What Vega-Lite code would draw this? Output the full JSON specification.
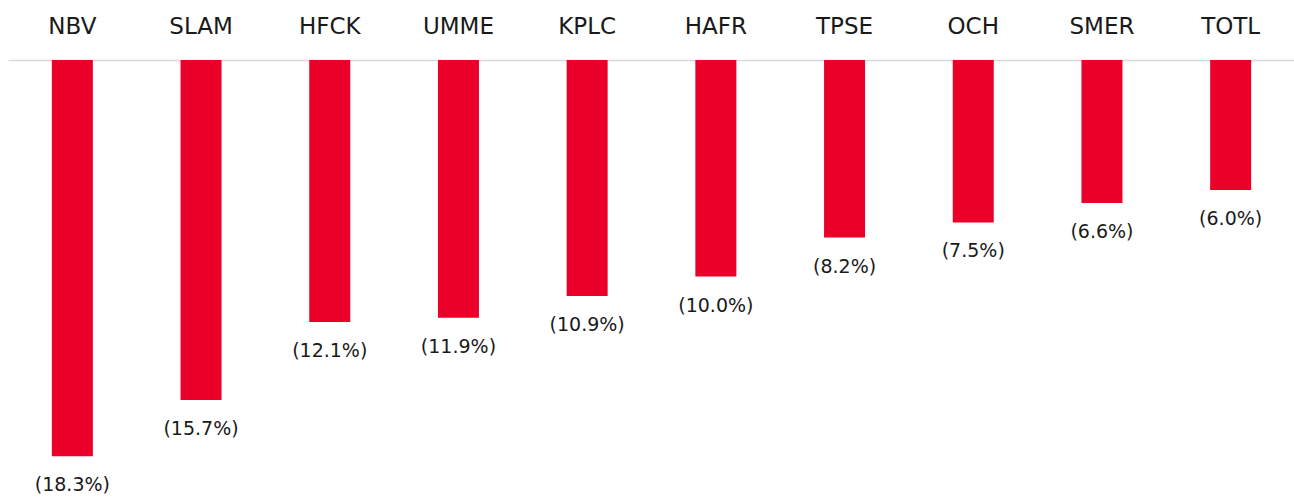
{
  "$schema": "https://vega.github.io/schema/vega-lite/v6.json",
  "width": 1287,
  "height": 433,
  "autosize": {"type": "none"},
  "padding": {"left": 8, "top": 60, "right": -1, "bottom": 5},
  "background": "white",
  "config": {
    "view": {"stroke": null},
    "font": "DejaVu Sans"
  },
  "data": {
    "values": [
      {"ticker": "NBV", "change": -0.183},
      {"ticker": "SLAM", "change": -0.157},
      {"ticker": "HFCK", "change": -0.121},
      {"ticker": "UMME", "change": -0.119},
      {"ticker": "KPLC", "change": -0.109},
      {"ticker": "HAFR", "change": -0.100},
      {"ticker": "TPSE", "change": -0.082},
      {"ticker": "OCH", "change": -0.075},
      {"ticker": "SMER", "change": -0.066},
      {"ticker": "TOTL", "change": -0.060}
    ]
  },
  "encoding": {
    "x": {
      "field": "ticker",
      "type": "nominal",
      "sort": null,
      "scale": {"paddingInner": 0, "paddingOuter": 0},
      "axis": {
        "orient": "top",
        "title": null,
        "ticks": false,
        "tickSize": 0,
        "labelAngle": 0,
        "labelFont": "DejaVu Sans",
        "labelFontSize": 23,
        "labelFontWeight": "normal",
        "labelColor": "#1a1a1a",
        "labelPadding": 27,
        "labelBaseline": "alphabetic",
        "domainColor": "#d9d9d9",
        "domainWidth": 1.5,
        "grid": false
      }
    },
    "y": {
      "field": "change",
      "type": "quantitative",
      "scale": {"domain": [-0.2, 0], "nice": false, "zero": true},
      "axis": null
    }
  },
  "layer": [
    {
      "mark": {"type": "bar", "size": 41, "color": "#EA0029"}
    },
    {
      "mark": {"type": "text", "baseline": "middle", "align": "center", "dy": 29, "fontSize": 19, "fontWeight": "normal", "font": "DejaVu Sans", "color": "#1a1a1a"},
      "encoding": {
        "text": {"field": "change", "type": "quantitative", "format": "(.1%"}
      }
    }
  ]
}
